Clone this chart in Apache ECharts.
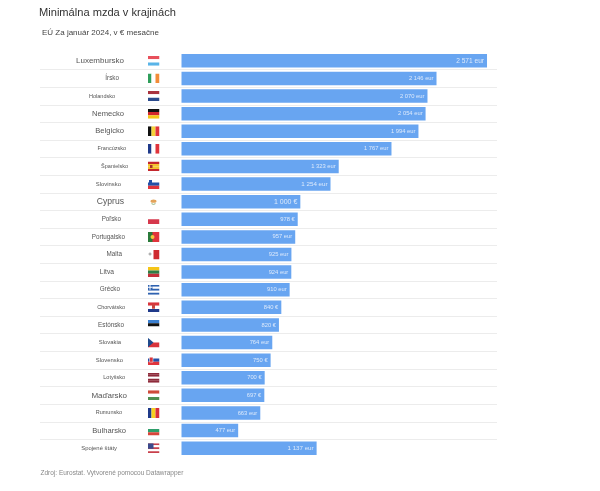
<!DOCTYPE html>
<html>
<head>
<meta charset="utf-8">
<style>html,body{margin:0;padding:0;background:#fff}#chart{width:600px;height:491px}</style>
<script src="https://cdn.jsdelivr.net/npm/echarts@6/dist/echarts.min.js"></script>
</head>
<body>
<div id="chart"></div>
<script>
var countries = ['Luxembursko','Írsko','Holandsko','Nemecko','Belgicko','Francúzsko','Španielsko','Slovinsko','Cyprus','Poľsko','Portugalsko','Malta','Litva','Grécko','Chorvátsko','Estónsko','Slovakia','Slovensko','Lotyšsko','Maďarsko','Rumunsko','Bulharsko','Spojené štáty'];
var wages = [2571,2146,2070,2054,1994,1767,1323,1254,1000,978,957,925,924,910,840,820,764,750,700,697,663,477,1137];
var wageLabels = ['2 571 eur','2 146 eur','2 070 eur','2 054 eur','1 994 eur','1 767 eur','1 323 eur','1 254 eur','1 000 €','978 €','957 eur','925 eur','924 eur','910 eur','840 €','820 €','764 eur','750 €','700 €','697 €','663 eur','477 eur','1 137 eur'];

// velkosti a konce popiskov, v povodnom grafe su nerovnake
var nameSizes = [8,6.3,5.5,7.6,7.6,5.5,5.5,5.9,8.6,6.3,6.3,6.3,6.7,6.3,5.5,6.3,5.9,5.9,5.5,8,5.5,7.6,5.9];
var nameEnds = [124,119,115,124,124,126,128,121,124,121,125,122,114,120,125,124,121,123,125,127,122,126,117];
var wageSizes = [6.6,5.8,5.8,5.8,5.8,5.8,5.8,6.2,7,5.8,5.8,5.8,5.8,5.8,5.8,5.8,5.8,5.8,5.8,5.8,5.8,5.8,6.2];

function stripes(colors) {
	var h = 10 / colors.length, s = '';
	for (var i = 0; i < colors.length; i++) s += '<rect y="' + i * h + '" width="12" height="' + h + '" fill="' + colors[i] + '"/>';
	return s;
}
function bars(colors) {
	var w = 12 / colors.length, s = '';
	for (var i = 0; i < colors.length; i++) s += '<rect x="' + i * w + '" width="' + w + '" height="10" fill="' + colors[i] + '"/>';
	return s;
}
var flagShapes = [
	stripes(['#e8505b','#ffffff','#59b4e8']),
	bars(['#2f9e5b','#ffffff','#f28c38']),
	stripes(['#a8323e','#ffffff','#2a4a8c']),
	stripes(['#111111','#d2262c','#f5c518']),
	bars(['#111111','#f5d33a','#e0343c']),
	bars(['#1f3a8a','#ffffff','#e0343c']),
	stripes(['#c4272e','#f4c430','#f4c430','#c4272e']) + '<rect x="2.5" y="3.5" width="2.5" height="3" fill="#a8322a"/>',
	stripes(['#ffffff','#2450a8','#e0343c']) + '<rect x="1.5" y="1" width="3" height="4" fill="#2450a8"/>',
	'<rect width="12" height="10" fill="#fff"/><ellipse cx="6" cy="4.5" rx="3" ry="1.6" fill="#e3a35a"/><path d="M4 7 Q6 8.4 8 7" stroke="#8fae72" fill="none"/>',
	stripes(['#ffffff','#d6384c']),
	'<rect width="12" height="10" fill="#e0343c"/><rect width="5" height="10" fill="#2a7a3a"/><circle cx="5" cy="5" r="2" fill="#f0c93a"/>',
	bars(['#ffffff','#cf2a30']) + '<path d="M2 3 h1 v1 h1 v1 h-1 v1 h-1 v-1 h-1 v-1 h1z" fill="#999"/>',
	stripes(['#f5c518','#2f7d46','#c4303a']),
	stripes(['#2f62b0','#ffffff','#2f62b0','#ffffff','#2f62b0']) + '<rect width="5" height="5" fill="#2f62b0"/><rect x="2" width="1" height="5" fill="#fff"/><rect y="2" width="5" height="1" fill="#fff"/>',
	stripes(['#d8343c','#ffffff','#1f3a8a']) + '<rect x="4.5" y="2" width="3" height="4.5" fill="#c9453f"/>',
	stripes(['#3a7fd0','#111111','#ffffff']),
	stripes(['#ffffff','#d8343c']) + '<path d="M0 0 L6 5 L0 10z" fill="#1f4a8c"/>',
	stripes(['#ffffff','#2450a8','#e0343c']) + '<rect x="2" y="2" width="3.5" height="5" fill="#d8343c" stroke="#fff" stroke-width=".5"/>',
	stripes(['#8e2a3a','#8e2a3a','#ffffff','#8e2a3a','#8e2a3a']),
	stripes(['#cf4a3a','#ffffff','#4f8f50']),
	bars(['#1f3a8a','#f5d020','#d8303c']),
	stripes(['#ffffff','#2f9e6b','#d8443a']),
	stripes(['#c8404c','#ffffff','#c8404c','#ffffff','#c8404c']) + '<rect width="6" height="5.5" fill="#3a4a8c"/>'
];

var richStyles = {};
countries.forEach(function (name, i) {
	richStyles['n' + i] = { fontSize: nameSizes[i], color: '#555', padding: [0, 147.5 - nameEnds[i], 0, 0] };
	richStyles['f' + i] = {
		width: 12,
		height: 10,
		backgroundColor: {
			image: 'data:image/svg+xml;charset=utf-8,' + encodeURIComponent('<svg xmlns="http://www.w3.org/2000/svg" width="24" height="20" viewBox="0 0 12 10">' + flagShapes[i] + '</svg>')
		}
	};
});

var chart = echarts.init(document.getElementById('chart'));
var option = {
	backgroundColor: '#fff',
	animation: false,
	textStyle: { fontFamily: '"Liberation Sans", Arial, sans-serif' },
	title: [
		{ text: 'Minimálna mzda v krajinách', left: 39, top: 7, padding: 0, textStyle: { fontSize: 11.1, fontWeight: 'normal', color: '#333' } },
		{ text: 'EÚ Za január 2024, v € mesačne', left: 42, top: 29, padding: 0, textStyle: { fontSize: 8, fontWeight: 'normal', color: '#444' } },
		{ text: 'Zdroj: Eurostat. Vytvorené pomocou Datawrapper', left: 40.5, top: 469.7, padding: 0, textStyle: { fontSize: 6.5, fontWeight: 'normal', color: '#888' } }
	],
	grid: [
		{ left: 181.5, top: 52, width: 315.5, height: 405 },
		{ left: 40, top: 52, width: 457, height: 405 }
	],
	xAxis: [
		{ gridIndex: 0, type: 'value', min: 0, max: 2655, show: false },
		{ gridIndex: 1, type: 'value', min: 0, max: 1, show: false }
	],
	yAxis: [
		{
			gridIndex: 0,
			type: 'category',
			inverse: true,
			data: countries,
			axisLine: { show: false },
			axisTick: { show: false },
			axisLabel: {
				margin: 22,
				align: 'right',
				interval: 0,
				rich: richStyles,
				formatter: function (value) {
					var i = countries.indexOf(value);
					return '{n' + i + '|' + value + '}{f' + i + '|}';
				}
			}
		},
		{
			// len oddelovacie ciary cez cely riadok
			gridIndex: 1,
			type: 'category',
			inverse: true,
			data: countries,
			axisLine: { show: false },
			axisTick: { show: false },
			axisLabel: { show: false },
			splitLine: { show: true, showMinLine: false, showMaxLine: false, interval: 0, lineStyle: { color: '#ececec', width: 1 } }
		}
	],
	series: [{
		type: 'bar',
		xAxisIndex: 0,
		yAxisIndex: 0,
		barWidth: 13.5,
		itemStyle: { color: '#68a5f1' },
		data: wages.map(function (v, i) {
			return {
				value: v,
				label: {
					show: true,
					position: 'insideRight',
					distance: 3,
					formatter: wageLabels[i],
					fontSize: wageSizes[i],
					color: '#dce9fb'
				}
			};
		})
	}]
};
chart.setOption(option);
</script>
</body>
</html>
